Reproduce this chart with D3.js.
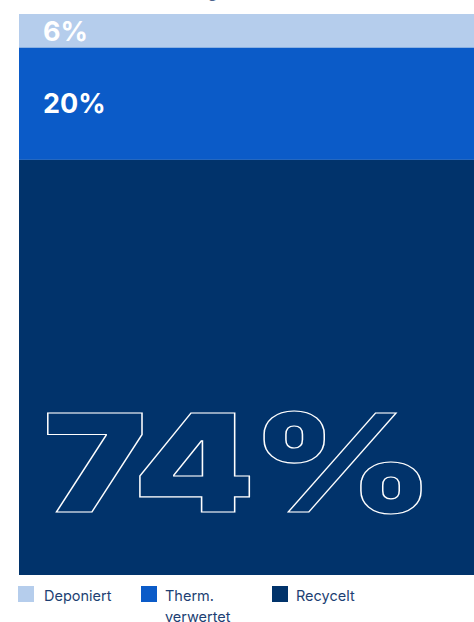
<!DOCTYPE html>
<html>
<head>
<meta charset="utf-8">
<script src="https://cdnjs.cloudflare.com/ajax/libs/d3/7.8.5/d3.min.js"></script>
<style>
  html, body { margin: 0; padding: 0; background: #fff; }
  svg { display: block; }
</style>
</head>
<body>
<div id="chart"></div>
<script>
// data
var categories = ['Deponiert', 'Therm. verwertet', 'Recycelt'];
var shares = [6, 20, 74];
var colours = ['#b5cdec', '#0b5bc8', '#01336b'];
var legendLines = [['Deponiert'], ['Therm.', 'verwertet'], ['Recycelt']];

var width = 474, height = 622;
var barTop = 14, barBottom = 575, barLeft = 19;

var svg = d3.select('#chart').append('svg')
  .attr('width', width)
  .attr('height', height);

// title, mostly above the visible area
svg.append('text')
  .attr('x', 252)
  .attr('y', -3)
  .attr('text-anchor', 'end')
  .attr('fill', '#1d3f73')
  .style('font-family', 'Inter, sans-serif')
  .style('font-weight', 700)
  .style('font-size', '17px')
  .text('Kunststoffverwertung (%)');

// stacked segments
var y = d3.scaleLinear().domain([0, d3.sum(shares)]).range([barTop, barBottom]);
var stacked = [];
var acc = 0;
shares.forEach(function(v, i) {
  stacked.push({name: categories[i], value: v, y0: acc, y1: acc + v, colour: colours[i]});
  acc += v;
});

svg.selectAll('rect.seg')
  .data(stacked)
  .enter().append('rect')
  .attr('class', 'seg')
  .attr('x', barLeft)
  .attr('width', width - barLeft)
  .attr('y', function(d) { return y(d.y0); })
  .attr('height', function(d) { return y(d.y1) - y(d.y0); })
  .attr('fill', function(d) { return d.colour; });

// small labels for the first two segments
svg.selectAll('text.lab')
  .data(stacked.slice(0, 2))
  .enter().append('text')
  .attr('class', 'lab')
  .attr('x', 43)
  .attr('y', function(d) { return (y(d.y0) + y(d.y1)) / 2; })
  .attr('dy', '0.36em')
  .attr('fill', '#fff')
  .style('font-family', 'Inter, sans-serif')
  .style('font-weight', 700)
  .style('font-size', '27px')
  .text(function(d) { return d.value + '%'; });

// big outlined label for the last one, stretched to a wide face
var last = stacked[2];
var big = svg.append('text')
  .attr('fill', 'none')
  .attr('stroke', '#fff')
  .attr('stroke-width', 1.3)
  .style('font-family', 'Inter, sans-serif')
  .style('font-weight', 900)
  .style('font-size', '136px')
  .style('letter-spacing', '-3px')
  .text(last.value + '%');
var bb = big.node().getBBox();
var sx = 387 / bb.width;
big.attr('transform', 'translate(' + (43 - bb.x * sx) + ',' + (y(last.y1) - 63) + ') scale(' + sx + ',1)')
  .attr('stroke-width', 1.3 / Math.sqrt(sx));

// legend
var legendX = [18, 141, 272];
var legend = svg.selectAll('g.leg')
  .data(categories)
  .enter().append('g')
  .attr('class', 'leg')
  .attr('transform', function(d, i) { return 'translate(' + legendX[i] + ',586)'; });

legend.append('rect')
  .attr('width', 16)
  .attr('height', 16)
  .attr('fill', function(d, i) { return colours[i]; });

legend.append('text')
  .attr('y', 15)
  .attr('fill', '#1d3f73')
  .style('font-family', 'Inter, sans-serif')
  .style('font-size', '14.5px')
  .each(function(d, i) {
    var t = d3.select(this);
    legendLines[i].forEach(function(line, j) {
      t.append('tspan')
        .attr('x', i === 0 ? 26 : 24)
        .attr('dy', j === 0 ? 0 : 21)
        .text(line);
    });
  });
</script>
</body>
</html>
